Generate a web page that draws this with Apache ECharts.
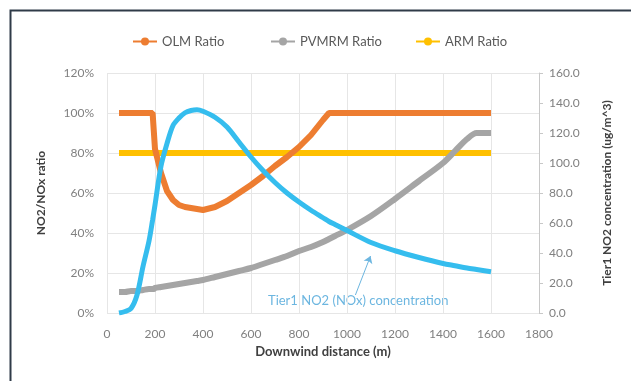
<!DOCTYPE html>
<html>
<head>
<meta charset="utf-8">
<script src="https://cdn.jsdelivr.net/npm/echarts@6/dist/echarts.min.js"></script>
<style>
html,body{margin:0;padding:0;background:#fff;}
#chart{width:631px;height:381px;}
</style>
</head>
<body>
<div id="chart"></div>
<script>
// downwind distance (m)
const distance = [50,75,100,125,150,175,190,195,200,225,250,275,300,325,350,375,400,450,500,550,600,650,700,750,800,850,900,925,950,1000,1100,1200,1300,1400,1450,1500,1540,1600];
// ratios in %
const olmRatio = [100,100,100,100,100,100,100,91,82,70,61,56.5,54,53,52.5,52,51.5,53,56,60,64,68.5,73.5,78,83,89,96.5,100,100,100,100,100,100,100,100,100,100,100];
const pvmrmRatio = [10.5,10.5,11,11,11.5,12,12,12,12.5,13,13.5,14,14.5,15,15.5,16,16.5,18,19.5,21,22.5,24.5,26.5,28.5,31,33,35.5,37,38.5,41.5,48.5,57,66,75,81,87,90,90];
const armRatio = [80,80,80,80,80,80,80,80,80,80,80,80,80,80,80,80,80,80,80,80,80,80,80,80,80,80,80,80,80,80,80,80,80,80,80,80,80,80];
// Tier1 NO2 concentration (ug/m^3)
const tier1No2 = [0,1,3,12,31,48,62,67,72,98,113,125,130,133.5,135,135.5,134.5,130.5,124,114,104,95,87,80,74,68.5,63.5,61,59,55,47,41.5,37,33,31.5,30,29,27.5];

const ratioTicks = {min:0, max:120, interval:20};
const concTicks = {min:0, max:160, interval:20};

const FONT = 'Lato, "Open Sans", sans-serif';
const pairs = arr => distance.map((d,i)=>[d, arr[i]]);

let chart = echarts.init(document.getElementById('chart'));

const legendBase = {
    top: 30,
    itemWidth: 24,
    itemHeight: 10,
    textStyle: {color:'#595959', fontSize:13, fontFamily:FONT}
};

let option = {
    backgroundColor:'#fff',
    animation:false,
    legend:[
        Object.assign({left:127, data:['OLM Ratio']}, legendBase),
        Object.assign({left:265, data:['PVMRM Ratio']}, legendBase),
        Object.assign({left:410, data:['ARM Ratio']}, legendBase)
    ],
    grid:{left:107, right:92, top:73, bottom:68},
    xAxis:{
        type:'value',
        min:0, max:1800, interval:200,
        name:'Downwind distance (m)',
        nameLocation:'middle',
        nameGap:28,
        nameTextStyle:{color:'#404040', fontSize:13, fontWeight:'bold', fontFamily:FONT},
        axisLine:{show:false},
        axisTick:{show:false},
        axisLabel:{color:'#808080', fontSize:12, margin:15, formatter:v=>String(v), fontFamily:FONT},
        splitLine:{show:true, lineStyle:{color:'#E6E6E6'}}
    },
    yAxis:[
        {
            type:'value',
            min:ratioTicks.min, max:ratioTicks.max, interval:ratioTicks.interval,
            name:'NO2/NOx ratio',
            nameLocation:'middle',
            nameGap:60,
            nameTextStyle:{color:'#404040', fontSize:12, fontWeight:'bold', fontFamily:FONT},
            axisLine:{show:false},
            axisTick:{show:false},
            axisLabel:{color:'#808080', fontSize:12, margin:13, formatter:'{value}%', fontFamily:FONT},
            splitLine:{show:true, lineStyle:{color:'#E6E6E6'}}
        },
        {
            type:'value',
            position:'right',
            min:concTicks.min, max:concTicks.max, interval:concTicks.interval,
            name:'Tier1 NO2 concentration (ug/m^3)',
            nameLocation:'middle',
            nameGap:62,
            nameRotate:90,
            nameTextStyle:{color:'#404040', fontSize:12, fontWeight:'bold', fontFamily:FONT},
            axisLine:{show:true, lineStyle:{color:'#C8C8C8'}},
            axisTick:{show:true, length:4, lineStyle:{color:'#C8C8C8'}},
            axisLabel:{color:'#808080', fontSize:12, margin:10, formatter:v=>v.toFixed(1), fontFamily:FONT},
            splitLine:{show:false}
        }
    ],
    series:[
        {
            name:'ARM Ratio',
            type:'line',
            data:pairs(armRatio),
            symbol:'circle', symbolSize:6, showSymbol:false,
            lineStyle:{width:6, color:'#FFC000'},
            itemStyle:{color:'#FFC000'},
            z:2
        },
        {
            name:'OLM Ratio',
            type:'line',
            data:pairs(olmRatio),
            symbol:'circle', symbolSize:6, showSymbol:false,
            lineStyle:{width:6, color:'#ED7D31'},
            itemStyle:{color:'#ED7D31'},
            z:3
        },
        {
            name:'PVMRM Ratio',
            type:'line',
            data:pairs(pvmrmRatio),
            smooth:0.3,
            symbol:'circle', symbolSize:6, showSymbol:false,
            lineStyle:{width:6, color:'#A5A5A5'},
            itemStyle:{color:'#A5A5A5'},
            z:2
        },
        {
            name:'Tier1 NO2 (NOx) concentration',
            type:'line',
            yAxisIndex:1,
            data:pairs(tier1No2),
            smooth:0.3,
            symbol:'circle', symbolSize:6, showSymbol:false,
            lineStyle:{width:5, color:'#35BDEE'},
            itemStyle:{color:'#35BDEE'},
            z:4,
            markLine:{
                silent:true,
                symbol:['none','arrow'],
                symbolSize:7,
                label:{show:false},
                lineStyle:{color:'#6CB6E0', width:1, type:'solid'},
                data:[[{coord:[1035,12]},{coord:[1098,38]}]]
            }
        }
    ],
    graphic:[
        {type:'rect', left:8, top:8, shape:{width:640, height:400}, style:{fill:'none', stroke:'#2F3B48', lineWidth:2}, silent:true},
        {type:'text', left:268, top:294, style:{text:'Tier1 NO2 (NOx) concentration', fill:'#6CB6E0', font:'13px ' + FONT}, silent:true}
    ]
};

chart.setOption(option);
</script>
</body>
</html>
